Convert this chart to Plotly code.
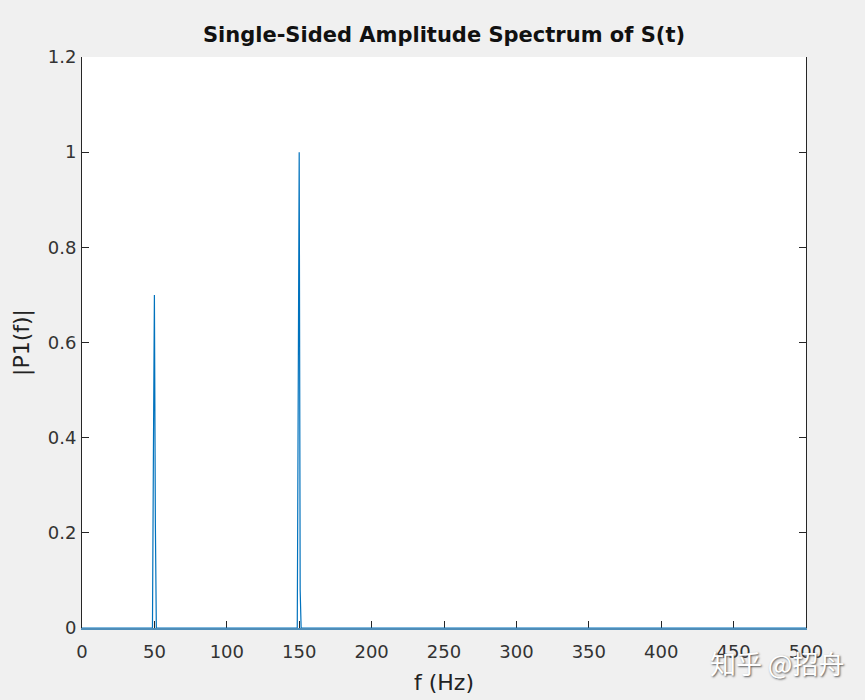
import plotly.graph_objects as go

# frequency (Hz) and single-sided amplitude |P1(f)|
freq = [0, 48.67, 49.33, 50.0, 50.67, 51.33, 148.67, 149.33, 150.0, 150.67, 151.33, 500]
amp = [0, 0, 0.375, 0.70, 0.22, 0, 0, 0.77, 1.0, 0.08, 0, 0]

x_ticks = [0, 50, 100, 150, 200, 250, 300, 350, 400, 450, 500]
y_ticks = [0, 0.2, 0.4, 0.6, 0.8, 1.0, 1.2]
y_tick_text = ["0", "0.2", "0.4", "0.6", "0.8", "1", "1.2"]

font_family = "DejaVu Sans, Liberation Sans, Arial, sans-serif"
axis_color = "#262626"
tick_font = dict(family=font_family, size=18, color="#333333")

fig = go.Figure()
fig.add_trace(go.Scatter(
    x=freq, y=amp, mode="lines",
    line=dict(color="#0072BD", width=1.2),
    hoverinfo="skip", showlegend=False,
))

common = dict(
    ticks="inside", ticklen=7, tickwidth=1, tickcolor=axis_color,
    showgrid=False, zeroline=False, automargin=False,
)

fig.update_layout(
    width=865, height=700,
    margin=dict(l=82, r=59, t=57, b=72),
    paper_bgcolor="#f0f0f0",
    plot_bgcolor="#ffffff",
    font=dict(family=font_family, size=18, color=axis_color),
    title=dict(
        text="<b>Single-Sided Amplitude Spectrum of S(t)</b>",
        x=0.5, xref="paper", xanchor="center",
        y=1 - 35 / 700, yref="container", yanchor="middle",
        font=dict(family=font_family, size=21, color="#111111"),
    ),
    xaxis=dict(
        range=[0, 500], tickvals=x_ticks, tickfont=tick_font,
        ticklabelstandoff=6,
        showline=True, linecolor="#4f8db8", linewidth=2,
        title=dict(text="f (Hz)", font=dict(size=22, color="#222222"), standoff=14),
        layer="below traces", **common,
    ),
    xaxis2=dict(
        range=[0, 500], tickvals=x_ticks, overlaying="x", side="top",
        showticklabels=False, showline=True, linecolor=axis_color, linewidth=1,
        **common,
    ),
    yaxis=dict(
        range=[0, 1.2], tickvals=y_ticks, ticktext=y_tick_text, tickfont=tick_font,
        ticklabelstandoff=1,
        showline=True, linecolor=axis_color, linewidth=1, mirror="allticks",
        title=dict(text="|P1(f)|", font=dict(size=22, color="#222222"), standoff=12),
        layer="below traces", **common,
    ),
)

# watermark, drawn over the lower-right corner as in the reference
fig.add_annotation(
    text="知乎 @招舟", xref="paper", yref="paper",
    x=1.055, y=-0.025, xanchor="right", yanchor="top", showarrow=False,
    font=dict(family="Noto Sans CJK SC", size=26, color="#ffffff",
              shadow="1px 1px 2px #555555"),
)

fig.write_html("out.html")
